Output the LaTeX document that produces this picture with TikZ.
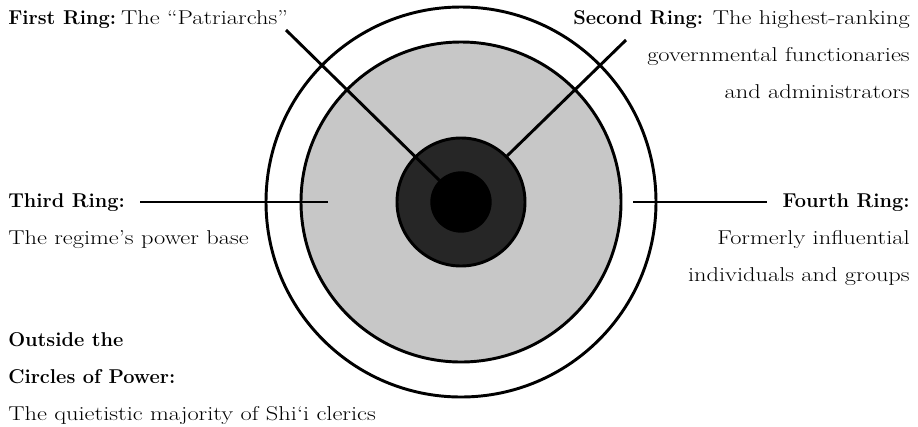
\documentclass[tikz,border=0pt]{standalone}
\usepackage{fontspec}
\usepackage{tikz}
\usetikzlibrary{shapes,positioning}
\newfontfamily\ringfont{Latin Modern Roman}[FakeStretch=1.22]
\newcommand{\ringname}[1]{{\normalfont\bfseries #1}}
\tikzstyle{ring} = [circle, draw=black, line width=2.2pt, inner sep=0pt]
\tikzstyle{leader} = [line width=2.2pt, black]
\tikzstyle{ringlabel} = [inner sep=0pt, font=\fontsize{15}{27.75}\selectfont\ringfont]

\begin{document}
\begin{tikzpicture}[x=0.75pt, y=-0.75pt]
\useasboundingbox (0,0) rectangle (918,426);
\coordinate (c) at (461,202);
% rings, outermost first
\node[ring, minimum size=292.5pt] (fourth) at (c) {};
\node[ring, fill=black!22, minimum size=240pt] (third) at (c) {};
\node[ring, fill=black!85, minimum size=96pt] (second) at (c) {};
\node[circle, fill=black, inner sep=0pt, minimum size=46pt] (first) at (c) {};

% labels (base = last line)
\node[ringlabel, anchor=base west] (firstlbl) at (8,24) {\ringname{First Ring:}\hspace{0.25em}The “Patriarchs”};
\node[ringlabel, anchor=base east, align=right] (secondlbl) at (910,98) {\ringname{Second Ring:} The highest-ranking\\governmental functionaries\\and administrators};
\node[ringlabel, anchor=base west, align=left] (thirdlbl) at (8,244) {\ringname{Third Ring:}\\The regime’s power base};
\node[ringlabel, anchor=base east, align=right] (fourthlbl) at (910,281) {\ringname{Fourth Ring:}\\Formerly influential\\individuals and groups};
\node[ringlabel, anchor=base west, align=left] (outsidelbl) at (8,420) {\ringname{Outside the}\\\ringname{Circles of Power:}\\The quietistic majority of Shi‘i clerics};

% leader lines
\coordinate (a1) at (286,30);
\coordinate (a2) at (626,40);
\coordinate (a3) at (140,202);
\coordinate (b3) at (328,202);
\coordinate (a4) at (633,202);
\coordinate (b4) at (767,202);
\draw[leader] (a1) -- (first.135);
\draw[leader] (a2) -- (second.45);
\draw[leader] (a3) -- (b3);
\draw[leader] (a4) -- (b4);
\end{tikzpicture}
\end{document}
